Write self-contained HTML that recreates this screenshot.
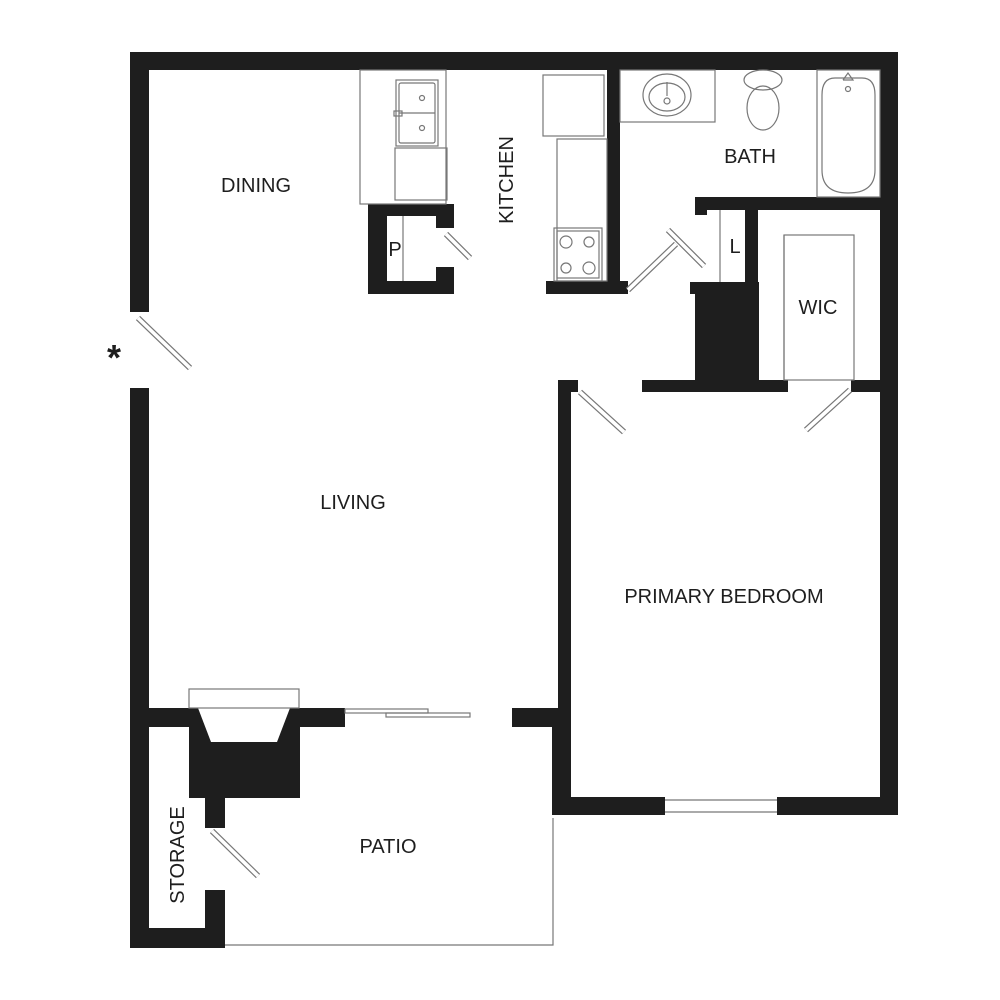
<!DOCTYPE html>
<html><head><style>body{margin:0;background:#fff}svg{display:block}text{font-family:"Liberation Sans",sans-serif;fill:#1e1e1e}</style></head><body>
<svg width="1000" height="1000" viewBox="0 0 1000 1000">
<g fill="#1e1e1e">
<rect x="130" y="52" width="768" height="18"/>
<rect x="130" y="52" width="19" height="260"/>
<rect x="130" y="388" width="19" height="560"/>
<rect x="880" y="52" width="18" height="763"/>
<rect x="552" y="797" width="113" height="18"/>
<rect x="777" y="797" width="121" height="18"/>
<rect x="552" y="708" width="19" height="107"/>
<rect x="558" y="380" width="13" height="335"/>
<rect x="558" y="380" width="20" height="12"/>
<rect x="512" y="708" width="59" height="19"/>
<rect x="130" y="708" width="215" height="19"/>
<rect x="189" y="708" width="111" height="90"/>
<rect x="205" y="798" width="20" height="30"/>
<rect x="130" y="928" width="95" height="20"/>
<rect x="205" y="890" width="20" height="58"/>
<!-- pantry -->
<rect x="368" y="204" width="86" height="12"/>
<rect x="368" y="204" width="19" height="90"/>
<rect x="368" y="281" width="86" height="13"/>
<rect x="436" y="204" width="18" height="24"/>
<rect x="436" y="267" width="18" height="27"/>
<!-- kitchen / bath -->
<rect x="607" y="70" width="13" height="224"/>
<rect x="546" y="281" width="82" height="13"/>
<rect x="695" y="197" width="185" height="13"/>
<rect x="695" y="197" width="12" height="18"/>
<rect x="745" y="197" width="13" height="195"/>
<rect x="695" y="282" width="64" height="110"/>
<rect x="690" y="282" width="12" height="12"/>
<rect x="642" y="380" width="146" height="12"/>
<rect x="851" y="380" width="29" height="12"/>
</g>
<polygon points="198,708 290,708 277,742 211,742" fill="#fff"/>
<g fill="none" stroke="#777" stroke-width="1.2">
<rect x="189" y="689" width="110" height="19"/>
<rect x="345" y="709" width="83" height="4"/>
<rect x="386" y="713" width="84" height="4"/>
<polyline points="225,945 553,945 553,818"/>
<line x1="665" y1="800" x2="777" y2="800"/><line x1="665" y1="812" x2="777" y2="812"/>
<line x1="403" y1="216" x2="403" y2="281"/>
<rect x="360" y="70" width="86" height="134"/>
<rect x="396" y="80" width="42" height="66"/>
<rect x="399" y="83" width="36" height="60" rx="2"/>
<line x1="399" y1="113" x2="435" y2="113"/>
<circle cx="422" cy="98" r="2.5"/><circle cx="422" cy="128" r="2.5"/>
<rect x="394" y="111" width="8" height="5"/>
<rect x="395" y="148" width="52" height="52"/>
<rect x="543" y="75" width="61" height="61"/>
<rect x="557" y="139" width="50" height="142"/>
<rect x="554" y="228" width="48" height="53"/>
<rect x="557" y="231" width="42" height="47"/>
<circle cx="566" cy="242" r="6"/><circle cx="589" cy="242" r="5"/>
<circle cx="566" cy="268" r="5"/><circle cx="589" cy="268" r="6"/>
<rect x="620" y="70" width="95" height="52"/>
<ellipse cx="667" cy="95" rx="24" ry="21"/>
<ellipse cx="667" cy="97" rx="18" ry="14"/>
<circle cx="667" cy="101" r="3"/><line x1="667" y1="82" x2="667" y2="96"/>
<ellipse cx="763" cy="80" rx="19" ry="10"/>
<ellipse cx="763" cy="108" rx="16" ry="22"/>
<rect x="817" y="70" width="63" height="127"/>
<path d="M822 95 Q822 78 835 78 L862 78 Q875 78 875 95 L875 170 Q875 193 848 193 Q822 193 822 170 Z"/>
<circle cx="848" cy="89" r="2.5"/><polyline points="843,80 848,73 853,80 843,80"/>
<line x1="720" y1="210" x2="720" y2="282"/>
<rect x="784" y="235" width="70" height="145"/>
<line x1="784" y1="235" x2="784" y2="380"/>
</g>
<g stroke="#777" stroke-width="6" stroke-linecap="butt">
<line x1="138" y1="318" x2="190" y2="368"/>
<line x1="446" y1="234" x2="470" y2="258"/>
<line x1="628" y1="290" x2="676" y2="244"/>
<line x1="668" y1="230" x2="704" y2="266"/>
<line x1="580" y1="392" x2="624" y2="432"/>
<line x1="850" y1="390" x2="806" y2="430"/>
<line x1="212" y1="831" x2="258" y2="876"/>
</g>
<g stroke="#fff" stroke-width="3.6">
<line x1="138" y1="318" x2="190" y2="368"/>
<line x1="446" y1="234" x2="470" y2="258"/>
<line x1="628" y1="290" x2="676" y2="244"/>
<line x1="668" y1="230" x2="704" y2="266"/>
<line x1="580" y1="392" x2="624" y2="432"/>
<line x1="850" y1="390" x2="806" y2="430"/>
<line x1="212" y1="831" x2="258" y2="876"/>
</g>
<text x="256" y="192" font-size="20" text-anchor="middle">DINING</text>
<text x="750" y="163" font-size="20" text-anchor="middle">BATH</text>
<text x="818" y="314" font-size="20" text-anchor="middle">WIC</text>
<text x="735" y="253" font-size="20" text-anchor="middle">L</text>
<text x="395" y="256" font-size="20" text-anchor="middle">P</text>
<text x="353" y="509" font-size="20" text-anchor="middle">LIVING</text>
<text x="724" y="603" font-size="20" text-anchor="middle">PRIMARY BEDROOM</text>
<text x="388" y="853" font-size="20" text-anchor="middle">PATIO</text>
<text transform="translate(513,180) rotate(-90)" font-size="20" text-anchor="middle">KITCHEN</text>
<text transform="translate(184,855) rotate(-90)" font-size="20" text-anchor="middle">STORAGE</text>
<text x="114" y="370" font-size="36" font-weight="bold" text-anchor="middle">*</text>
</svg>
</body></html>
